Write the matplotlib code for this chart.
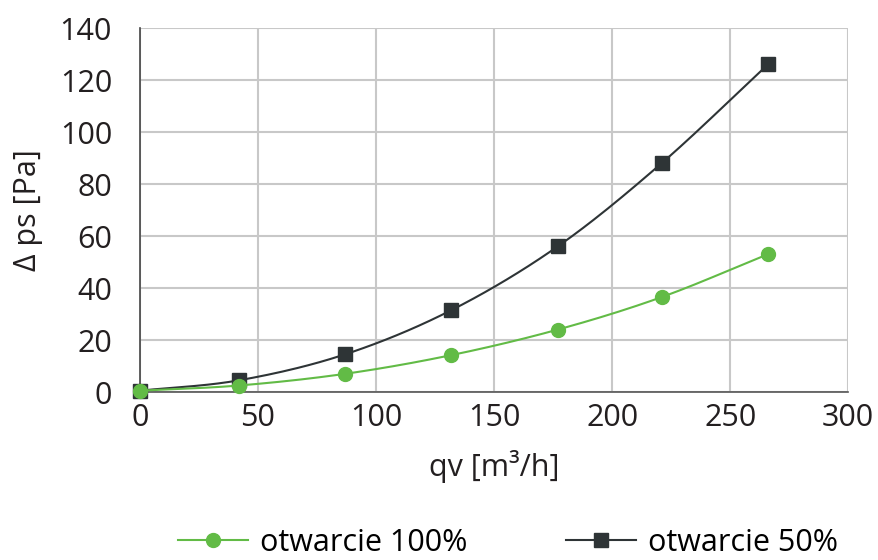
import numpy as np
import matplotlib.pyplot as plt

# dane
qv = [0, 42, 87, 132, 177, 221, 266]
dp_100 = [0.5, 2.5, 7, 14.2, 24, 36.5, 53]
dp_50 = [0.5, 4.5, 14.5, 31.5, 56, 88, 126]

x_ticks = [0, 50, 100, 150, 200, 250, 300]
y_ticks = [0, 20, 40, 60, 80, 100, 120, 140]

GREEN = "#62bb46"
DARK = "#2e3436"
TEXT = "#231f20"


def smooth(x, y, n=30):
    # wygładzona linia (Catmull-Rom) jak w Excelu
    x = np.asarray(x, float)
    y = np.asarray(y, float)
    px = np.concatenate([[2 * x[0] - x[1]], x, [2 * x[-1] - x[-2]]])
    py = np.concatenate([[2 * y[0] - y[1]], y, [2 * y[-1] - y[-2]]])
    xs, ys = [], []
    t = np.linspace(0, 1, n)
    for i in range(1, len(px) - 2):
        for p, out in ((px, xs), (py, ys)):
            p0, p1, p2, p3 = p[i - 1], p[i], p[i + 1], p[i + 2]
            out.extend(0.5 * ((2 * p1) + (-p0 + p2) * t
                              + (2 * p0 - 5 * p1 + 4 * p2 - p3) * t ** 2
                              + (-p0 + 3 * p1 - 3 * p2 + p3) * t ** 3))
    return xs, ys


plt.rcParams["font.family"] = ["Open Sans", "DejaVu Sans"]

fig = plt.figure(figsize=(8.79, 5.6), dpi=100)
ax = fig.add_axes([0.159, 0.30, 0.806, 0.65])

sx, sy = smooth(qv, dp_50)
ax.plot(sx, sy, color=DARK, lw=1.5, zorder=3, clip_on=False)
ax.plot(qv, dp_50, "s", color=DARK, ms=9.5, zorder=4, clip_on=False)

sx, sy = smooth(qv, dp_100)
ax.plot(sx, sy, color=GREEN, lw=1.5, zorder=5, clip_on=False)
ax.plot(qv, dp_100, "o", color=GREEN, ms=10, zorder=6, clip_on=False)

# wpisy legendy
h1, = ax.plot([], [], "-o", color=GREEN, ms=10, lw=1.5)
h2, = ax.plot([], [], "-s", color=DARK, ms=9.5, lw=1.5)

ax.set_xlim(0, 300)
ax.set_ylim(0, 140)
ax.set_xticks(x_ticks)
ax.set_yticks(y_ticks)
ax.tick_params(length=0, labelsize=22, colors=TEXT)
ax.tick_params(axis="x", pad=8)
ax.tick_params(axis="y", pad=20)
ax.grid(True, color="#c8c8c8", lw=1.5)
ax.set_axisbelow(True)

for s in ["top", "right"]:
    ax.spines[s].set_visible(False)
ax.spines["left"].set_color("#444444")
ax.spines["bottom"].set_color("#555555")
ax.spines["left"].set_linewidth(1.2)
ax.spines["bottom"].set_linewidth(1.2)

ax.set_xlabel("qv [m³/h]", fontsize=22, color=TEXT, labelpad=12)
ax.set_ylabel("Δ ps [Pa]", fontsize=22, color=TEXT, labelpad=12)

fig.legend([h1, h2], ["otwarcie 100%", "otwarcie 50%"],
           loc="lower center", bbox_to_anchor=(0.578, -0.045), ncol=2,
           frameon=False, fontsize=22, handlelength=2.3,
           columnspacing=3.2, handletextpad=0.4)

fig.savefig("out.png", dpi=100)
